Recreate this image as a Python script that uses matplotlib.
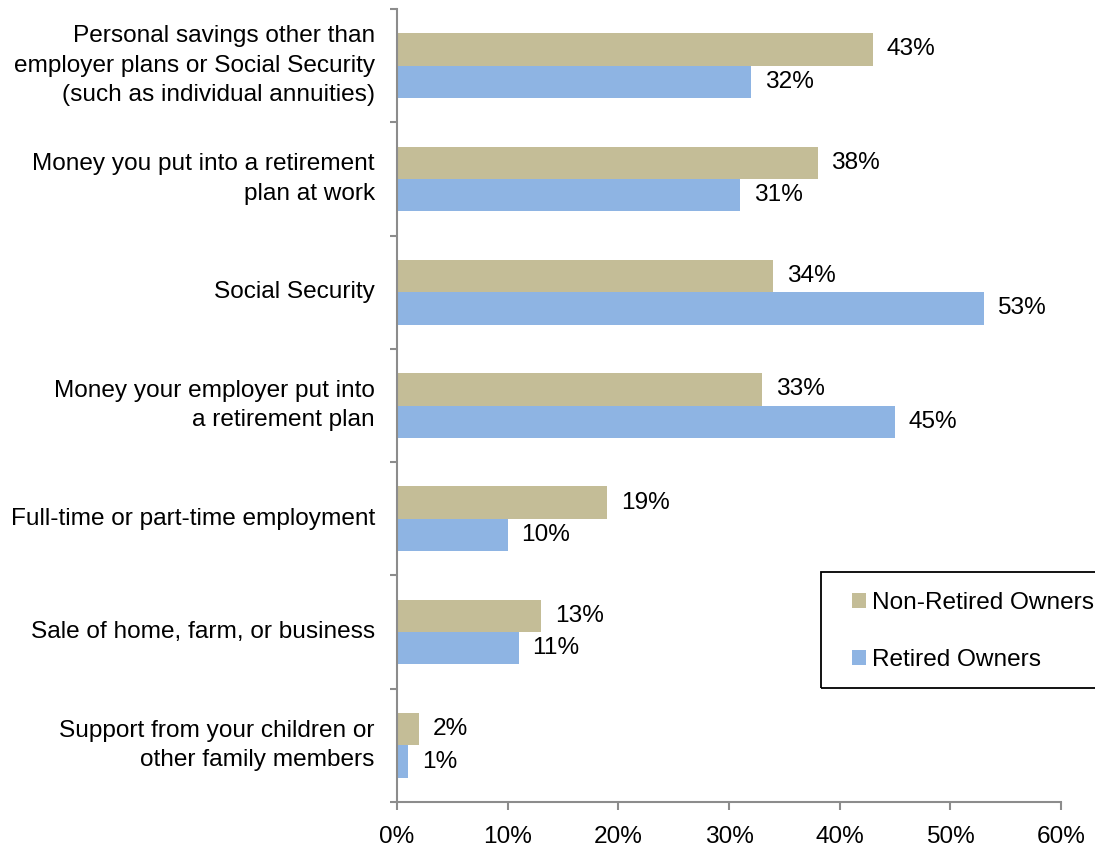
import matplotlib.pyplot as plt
from matplotlib.patches import Rectangle
import numpy as np

plt.rcParams['font.family'] = ['Liberation Sans', 'DejaVu Sans']

categories = [
    'Personal savings other than\nemployer plans or Social Security\n(such as individual annuities)',
    'Money you put into a retirement\nplan at work',
    'Social Security',
    'Money your employer put into\na retirement plan',
    'Full-time or part-time employment',
    'Sale of home, farm, or business',
    'Support from your children or\nother family members',
]
non_retired = [43, 38, 34, 33, 19, 13, 2]
retired = [32, 31, 53, 45, 10, 11, 1]

tan = '#C4BD97'
blue = '#8EB4E3'
grey = '#8C8C8C'
fs = 17.6

fig = plt.figure(figsize=(10.95, 8.48), dpi=100)
ax = fig.add_axes([397 / 1095, 1 - 802 / 848, 664 / 1095, 793 / 848])

y = np.arange(len(categories))
h = 0.285
b1 = ax.barh(y - h / 2, non_retired, height=h, color=tan, label='Non-Retired Owners')
b2 = ax.barh(y + h / 2, retired, height=h, color=blue, label='Retired Owners')

for bars, vals in ((b1, non_retired), (b2, retired)):
    for bar, v in zip(bars, vals):
        ax.annotate(f'{v}%', (v, bar.get_y() + bar.get_height() / 2),
                    xytext=(10, 0), textcoords='offset points',
                    va='center', ha='left', fontsize=fs)

ax.set_ylim(len(categories) - 0.5, -0.5)
ax.set_xlim(0, 60)
ax.set_xticks(range(0, 61, 10))
ax.set_xticklabels([f'{t}%' for t in range(0, 61, 10)], fontsize=fs)

ax.set_yticks(y)
ax.set_yticklabels(categories, fontsize=fs, linespacing=1.45, multialignment='right')
for lbl in ax.get_yticklabels():
    lbl.set_va('center')
ax.set_yticks(np.arange(-0.5, len(categories)), minor=True)
ax.tick_params(axis='y', which='major', length=0, pad=16)
ax.tick_params(axis='y', which='minor', length=5, width=1.5, color=grey, direction='out')
ax.tick_params(axis='x', length=6, width=1.5, color=grey, direction='out', pad=11)

for s in ('top', 'right'):
    ax.spines[s].set_visible(False)
for s in ('left', 'bottom'):
    ax.spines[s].set_color(grey)
    ax.spines[s].set_linewidth(1.5)

# legend box runs off the right edge of the figure
fig.patches.append(Rectangle((821 / 1095, 1 - 688 / 848), 0.3, 116 / 848,
                             transform=fig.transFigure, fill=False,
                             edgecolor='black', linewidth=1.3))
fig.legend(loc='upper left', bbox_to_anchor=(852 / 1095, 1 - 592 / 848),
           fontsize=fs, frameon=False,
           handlelength=0.58, handleheight=0.58, handletextpad=0.25,
           labelspacing=1.45, borderpad=0, borderaxespad=0)

fig.savefig('out.png', dpi=100)
